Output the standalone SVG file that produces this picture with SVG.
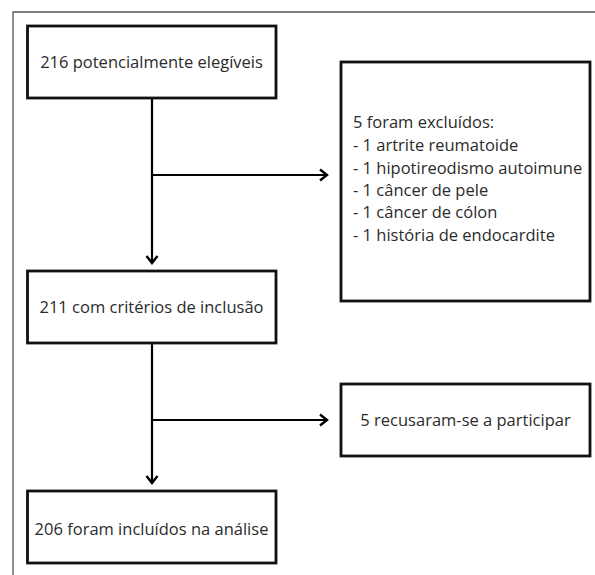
<svg xmlns="http://www.w3.org/2000/svg" width="595" height="575" viewBox="0 0 595 575">
<defs>
<marker id="arr" markerUnits="userSpaceOnUse" markerWidth="14" markerHeight="14" refX="11" refY="7" orient="auto">
<polyline points="4,1.5 11,7 4,12.5" fill="none" stroke="#000" stroke-width="2.4"/>
</marker>
<style>
.box{fill:#fff;stroke:#111;stroke-width:2.8}
.t{font-family:"Open Sans","Noto Sans",sans-serif;font-size:16.5px;fill:#2b2b2b}
.c{text-anchor:middle}
.ln{fill:none;stroke:#000;stroke-width:2.2}
</style>
</defs>
<rect width="595" height="575" fill="#fff"/>
<g id="frame"><polyline points="13,575 13,12 595,12" fill="none" stroke="#555" stroke-width="1.3"/></g>
<g id="connectors">
<line class="ln" x1="152" y1="98" x2="152" y2="263" marker-end="url(#arr)"/>
<line class="ln" x1="152" y1="175" x2="327" y2="175" marker-end="url(#arr)"/>
<line class="ln" x1="152" y1="343" x2="152" y2="483" marker-end="url(#arr)"/>
<line class="ln" x1="152" y1="420" x2="327" y2="420" marker-end="url(#arr)"/>
</g>
<g id="n1"><rect class="box" x="27.5" y="26" width="248.5" height="72"/><text class="t c" x="151.5" y="68">216 potencialmente elegíveis</text></g>
<g id="n2"><rect class="box" x="341" y="62" width="249" height="239"/>
<text class="t" x="353" y="128">5 foram excluídos:</text>
<text class="t" x="353" y="151">- 1 artrite reumatoide</text>
<text class="t" x="353" y="174">- 1 hipotireodismo autoimune</text>
<text class="t" x="353" y="196">- 1 câncer de pele</text>
<text class="t" x="353" y="218">- 1 câncer de cólon</text>
<text class="t" x="353" y="241">- 1 história de endocardite</text>
</g>
<g id="n3"><rect class="box" x="27.5" y="271" width="248.5" height="72"/><text class="t c" x="151.5" y="313">211 com critérios de inclusão</text></g>
<g id="n4"><rect class="box" x="341" y="384" width="249" height="72"/><text class="t c" x="465.5" y="426">5 recusaram-se a participar</text></g>
<g id="n5"><rect class="box" x="27.5" y="491" width="248.5" height="72"/><text class="t c" x="151.5" y="535">206 foram incluídos na análise</text></g>
</svg>
